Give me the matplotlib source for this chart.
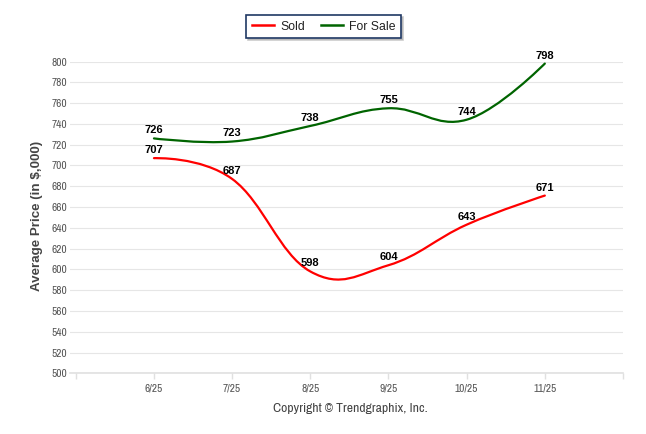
import matplotlib
matplotlib.use("Agg")
import matplotlib.pyplot as plt
from matplotlib.path import Path
from matplotlib.patches import PathPatch
from matplotlib.lines import Line2D

# ---- data ----
months = ["6/25", "7/25", "8/25", "9/25", "10/25", "11/25"]
sold = [707, 687, 598, 604, 643, 671]
for_sale = [726, 723, 738, 755, 744, 798]
y_ticks = list(range(500, 801, 20))

RED = "#ff0000"
GREEN = "#006400"
NARROW = ["Liberation Sans Narrow", "Arimo Narrow", "Archivo Narrow",
          "Roboto Condensed", "DejaVu Sans"]
SANS = ["Liberation Sans", "DejaVu Sans"]


def spline_path(xs, ys, smoothing=1.5):
    """Highcharts-style spline through the data points (cubic Bezier path)."""
    n = len(xs)
    denom = smoothing + 1
    left = [None] * n
    right = [None] * n
    for i in range(1, n - 1):
        lx = (smoothing * xs[i] + xs[i - 1]) / denom
        ly = (smoothing * ys[i] + ys[i - 1]) / denom
        rx = (smoothing * xs[i] + xs[i + 1]) / denom
        ry = (smoothing * ys[i] + ys[i + 1]) / denom
        corr = (ry - ly) * (rx - xs[i]) / (rx - lx) + ys[i] - ry
        left[i] = (lx, ly + corr)
        right[i] = (rx, ry + corr)
    verts = [(xs[0], ys[0])]
    codes = [Path.MOVETO]
    for i in range(1, n):
        c1 = right[i - 1] if right[i - 1] is not None else (xs[i - 1], ys[i - 1])
        c2 = left[i] if left[i] is not None else (xs[i], ys[i])
        verts += [c1, c2, (xs[i], ys[i])]
        codes += [Path.CURVE4] * 3
    return Path(verts, codes)


W, H = 646, 434
fig = plt.figure(figsize=(W / 100, H / 100), dpi=100)
ax = fig.add_axes([70 / W, 1 - 373.3 / H, 553 / W, 311.8 / H])

xs = list(range(len(months)))
for vals, col in ((sold, RED), (for_sale, GREEN)):
    ax.add_patch(PathPatch(spline_path(xs, vals), facecolor="none",
                           edgecolor=col, lw=1.6, capstyle="round", zorder=3))
    for x, v in zip(xs, vals):
        ax.annotate(str(v), (x, v), xytext=(0, 2.2), textcoords="offset points",
                    ha="center", va="bottom", fontsize=8, fontweight="bold",
                    family=SANS, color="#000000", zorder=4)

ax.set_xlim(-1.074, 6.0)
ax.set_ylim(500, 800)

ax.set_yticks(y_ticks)
ax.set_yticklabels([str(v) for v in y_ticks], family=NARROW, fontsize=8.2,
                   color="#555555")
ax.tick_params(axis="y", length=0, pad=2)

xt = list(range(-1, 7))
ax.set_xticks(xt)
ax.set_xticklabels([""] + months + [""], family=NARROW, fontsize=8.2,
                   color="#555555")
ax.tick_params(axis="x", length=4, width=1, color="#e0e0e0", pad=3)

ax.grid(axis="y", color="#e6e6e6", lw=0.8)
ax.set_axisbelow(True)
for s in ("top", "left", "right"):
    ax.spines[s].set_visible(False)
ax.spines["bottom"].set_color("#e0e0e0")
ax.spines["bottom"].set_linewidth(1.2)

fig.text(37 / W, 1 - 216 / H, "Average Price (in $,000)", rotation=90,
         ha="center", va="center", fontsize=9.6, fontweight="bold",
         family=SANS, color="#444444")

fig.text(350 / W, 1 - 409 / H, "Copyright \u00a9 Trendgraphix, Inc.",
         ha="center", va="center", fontsize=9.8, family=NARROW, color="#444444")

handles = [Line2D([], [], color=RED, lw=1.8), Line2D([], [], color=GREEN, lw=1.8)]
leg = fig.legend(handles, ["Sold", "For Sale"], loc="center",
                 bbox_to_anchor=(323.5 / W, 1 - 26.5 / H), ncol=2,
                 frameon=True, fancybox=False,
                 shadow={"ox": 1.5, "oy": -1.5, "color": "#aaaaaa", "alpha": 0.6},
                 prop={"family": SANS, "size": 8.8}, handlelength=1.8,
                 handletextpad=0.5, columnspacing=1.3, borderpad=0.45,
                 edgecolor="#1f3864")
leg.get_frame().set_linewidth(1.2)
for t in leg.get_texts():
    t.set_color("#222222")

fig.savefig("out.png", dpi=100)
